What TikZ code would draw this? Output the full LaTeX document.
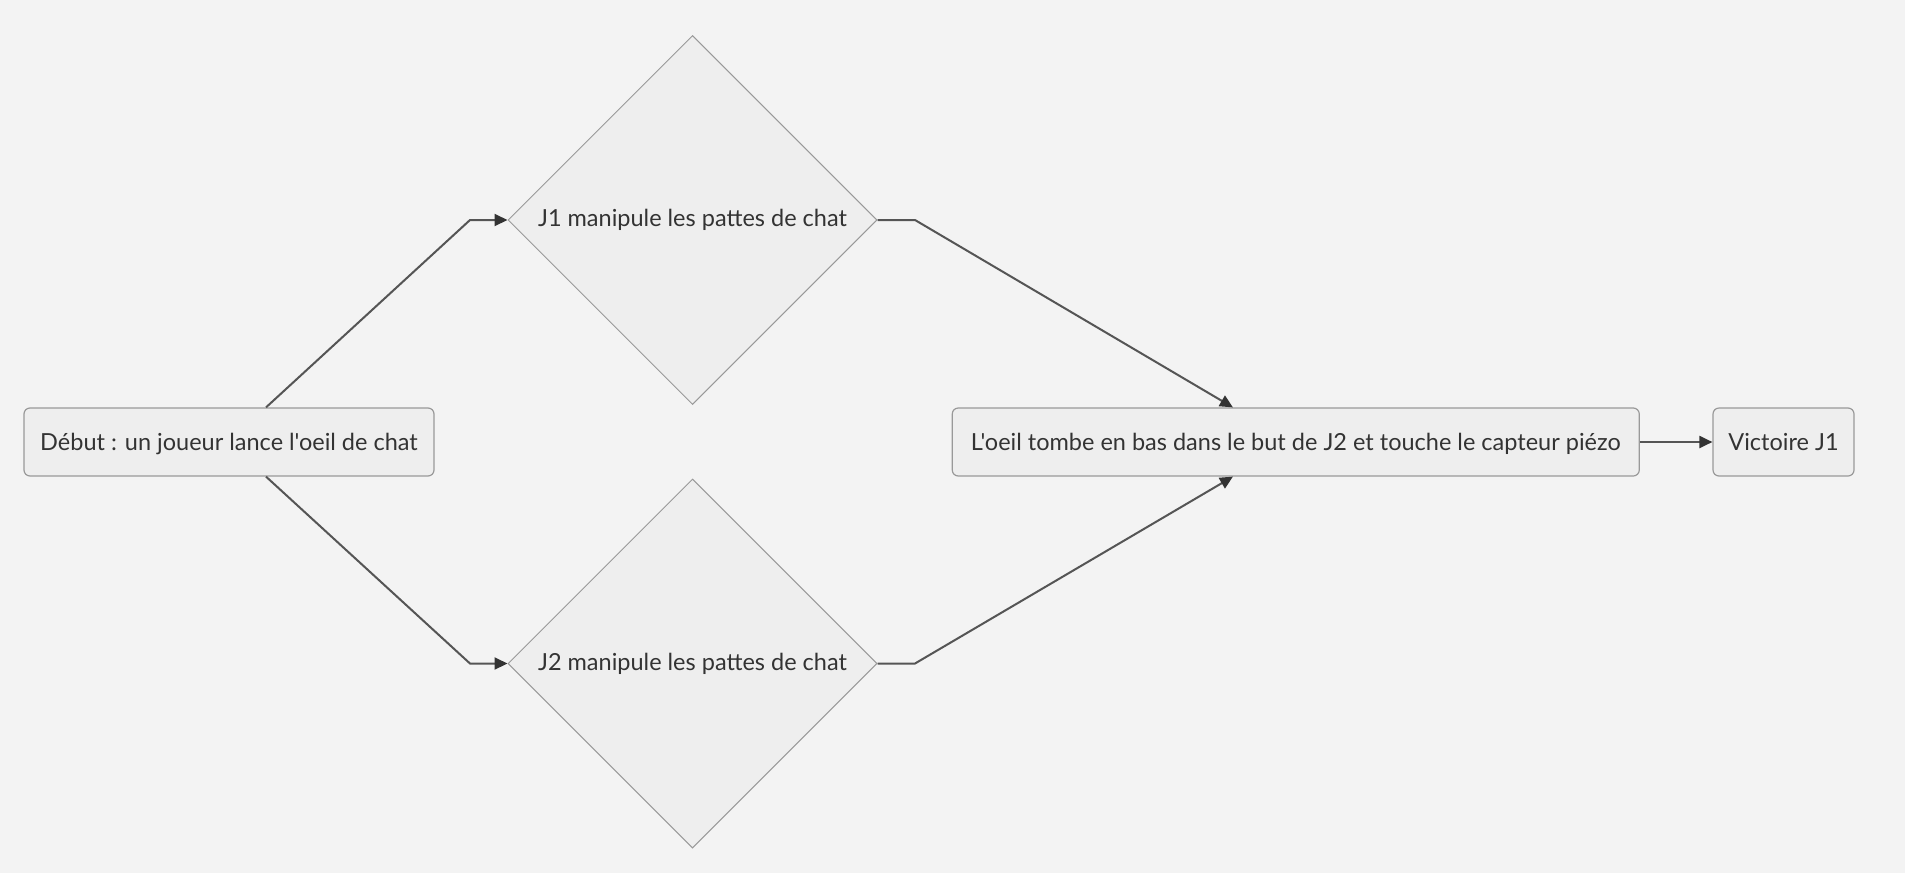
\documentclass[tikz,border=0pt]{standalone}
\usepackage{fontspec}
\setmainfont{Lato}[Ligatures=TeXOff]
\usetikzlibrary{shapes.geometric,arrows.meta}
\definecolor{bg}{HTML}{F3F3F3}
\definecolor{nodefill}{HTML}{EEEEEE}
\definecolor{nodeborder}{HTML}{999999}
\definecolor{edgecol}{HTML}{555555}
\definecolor{tipcol}{HTML}{333333}
\definecolor{txt}{HTML}{333333}
\begin{document}
\begin{tikzpicture}[x=0.5pt,y=-0.5pt,
  every node/.style={font=\fontsize{11.75}{14}\selectfont, text=txt},
  procbox/.style={draw=nodeborder, fill=nodefill, line width=0.6pt, rounded corners=3pt, inner sep=0pt, minimum height=34pt, text depth=0pt},
  decision/.style={diamond, aspect=1, draw=nodeborder, fill=nodefill, line width=0.5pt, inner sep=0pt, minimum width=184.5pt, minimum height=184.5pt},
  flow/.style={draw=edgecol, line width=1pt, -{Triangle[length=6.5pt,width=6pt,color=tipcol]}}]
\fill[bg] (0,0) rectangle (1905,873);
\useasboundingbox (0,0) rectangle (1905,873);
\node[procbox, minimum width=205pt] (start) at (229,442) {Début : un joueur lance l'oeil de chat};
\node[decision] (j1) at (692.5,220) {J1 manipule les pattes de chat};
\node[decision] (j2) at (692.5,663.5) {J2 manipule les pattes de chat};
\node[procbox, minimum width=343.5pt] (oeil) at (1295.75,442) {L'oeil tombe en bas dans le but de J2 et touche le capteur piézo};
\node[procbox, minimum width=70.5pt] (vic) at (1783.5,442) {Victoire J1};
\draw[flow] ([xshift=18.5pt]start.north) -- (470,220) -- (j1.west);
\draw[flow] ([xshift=18.5pt]start.south) -- (470,663.5) -- (j2.west);
\draw[flow] (j1.east) -- (915,220) -- ([xshift=-31.4pt]oeil.north);
\draw[flow] (j2.east) -- (915,663.5) -- ([xshift=-31.4pt]oeil.south);
\draw[flow] (oeil.east) -- (vic.west);
\end{tikzpicture}
\end{document}
